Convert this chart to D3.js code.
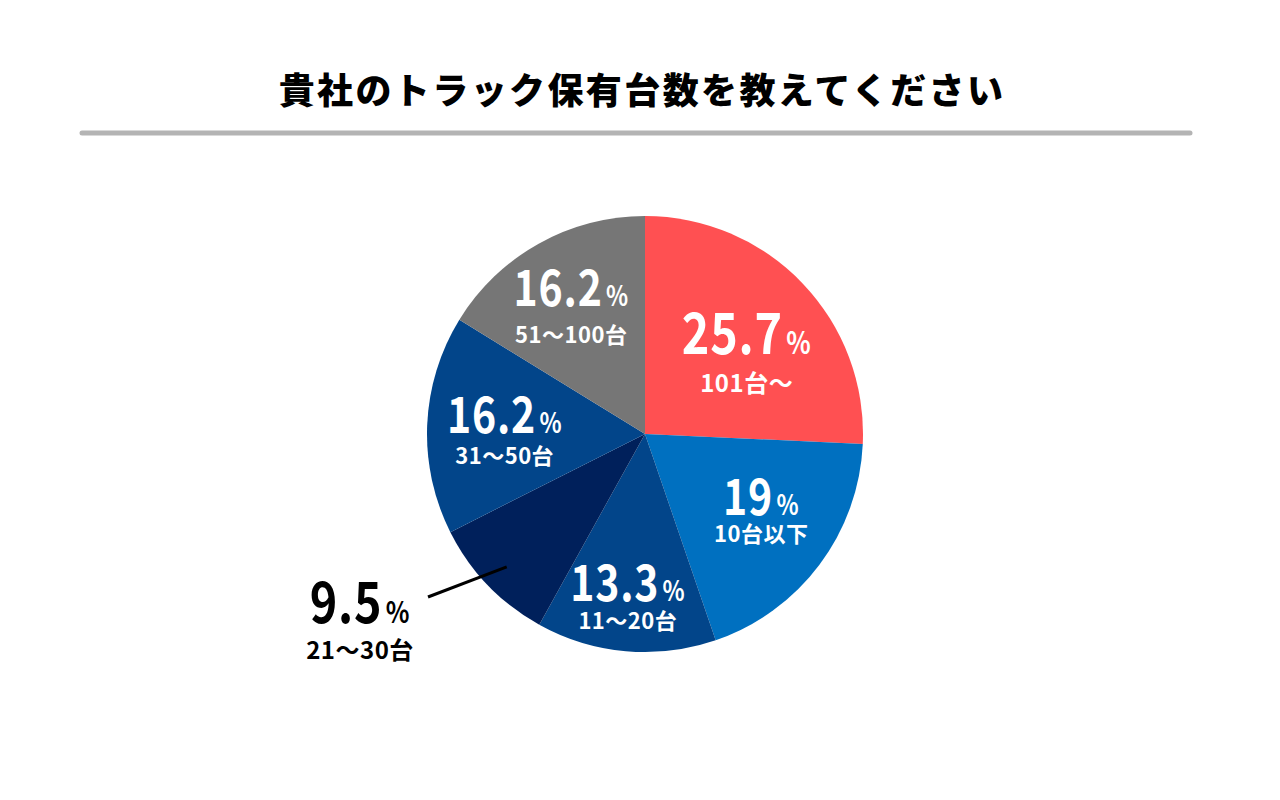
<!DOCTYPE html>
<html><head><meta charset="utf-8">
<script src="https://cdn.jsdelivr.net/npm/d3@7"></script>
<style>
html,body{margin:0;padding:0;background:#fff;}
svg{display:block;}
text{font-family:"Noto Sans CJK JP","Noto Sans",sans-serif;font-weight:700;}
</style></head>
<body>
<script>
// ---- data ----
const categories = ["101台〜", "10台以下", "11〜20台", "21〜30台", "31〜50台", "51〜100台"];
const values = [25.7, 19, 13.3, 9.5, 16.2, 16.2];
const valueLabels = ["25.7", "19", "13.3", "9.5", "16.2", "16.2"];
const colors = ["#FF5052", "#0070C0", "#02458A", "#00205B", "#02458A", "#767676"];
const title = "貴社のトラック保有台数を教えてください";

// ---- layout ----
const W = 1280, H = 800;
const cx = 645, cy = 434, R = 218;
const labelR = [119, 149, 181, 0, 141, 133];
const labelDA = [12.4, 1.9, 0.4, 0, -7.9, -4.5];
const numSize = [57, 50, 50, 57, 50, 50];
const pctSize = [31, 28, 28, 30, 28, 28];
const subSize = [24, 22, 22, 24, 22, 22];
const gap = [38, 27, 28, 36, 31, 37];

const svg = d3.select("body").append("svg").attr("width", W).attr("height", H);

svg.append("text").attr("x", 642).attr("y", 104).attr("text-anchor", "middle")
  .attr("font-size", 36).attr("letter-spacing", 2.4).attr("fill", "#000")
  .style("font-weight", 900).text(title);

svg.append("line").attr("x1", 82).attr("x2", 1190).attr("y1", 133).attr("y2", 133)
  .attr("stroke", "#B4B4B4").attr("stroke-width", 5).attr("stroke-linecap", "round");

const pie = d3.pie().sort(null).value(d => d)(values);
const arc = d3.arc().innerRadius(0).outerRadius(R);
const g = svg.append("g").attr("transform", `translate(${cx},${cy})`);
g.selectAll("path").data(pie).join("path").attr("d", arc).attr("fill", (d, i) => colors[i]);

// leader line for 21〜30台
const p3 = pie[3];
const inner = d3.arc().innerRadius(R * 0.88).outerRadius(R * 0.88).centroid(p3);
g.append("line").attr("x1", inner[0]).attr("y1", inner[1])
  .attr("x2", -217).attr("y2", 163).attr("stroke", "#000").attr("stroke-width", 3);

pie.forEach((d, i) => {
  let x, y, fill = "#fff";
  if (i === 3) { x = 360 - cx; y = 640 - cy; fill = "#000"; }
  else {
    const a = (d.startAngle + d.endAngle) / 2 + labelDA[i] * Math.PI / 180;
    x = labelR[i] * Math.sin(a); y = -labelR[i] * Math.cos(a);
  }
  const ng = g.append("g").attr("transform", `translate(${x},${y - gap[i] / 2 + 1}) scale(0.82,1)`);
  const t = ng.append("text").attr("x", 0).attr("y", 0).attr("text-anchor", "middle")
    .attr("fill", fill).attr("letter-spacing", 1);
  t.append("tspan").attr("font-size", numSize[i]).text(valueLabels[i]);
  t.append("tspan").attr("font-size", pctSize[i]).attr("dx", 4).text("%");
  g.append("text").attr("x", x).attr("y", y + gap[i] / 2 + 1).attr("text-anchor", "middle")
    .attr("fill", fill).attr("font-size", subSize[i]).attr("letter-spacing", 0.5).text(categories[i]);
});
</script>
</body></html>
